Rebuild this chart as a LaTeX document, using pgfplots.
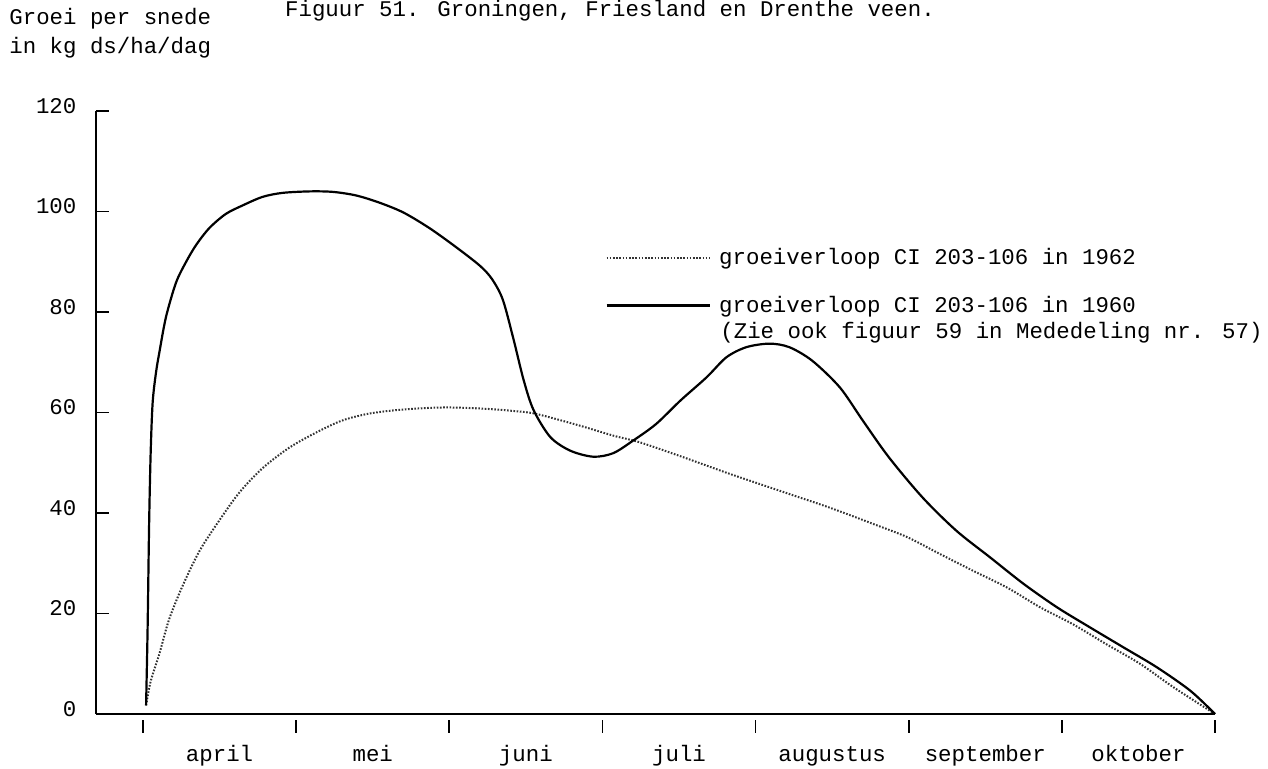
\documentclass[border=0pt]{standalone}
\usepackage{fontspec}
\setmainfont{Liberation Mono}
\usepackage{pgfplots}
\pgfplotsset{compat=1.18}

\begin{document}
\begin{tikzpicture}[font=\fontsize{11.2}{13}\selectfont]
\begin{axis}[
  at={(0pt,0pt)}, anchor=south west,
  scale only axis, width=559.5pt, height=301.5pt,
  xmin=-0.307, xmax=7, ymin=0, ymax=120,
  axis x line*=bottom, axis y line*=left,
  axis line style={line width=1pt, black},
  tick align=inside, major tick length=6.5pt,
  tick style={line width=0.9pt, black},
  xtick={0,...,7}, xticklabels={,,,,,,,},
  x tick style={yshift=-9.5pt},
  extra x ticks={0.5,1.5,2.5,3.5,4.5,5.5,6.5},
  extra x tick labels={april,mei,juni,juli,augustus,september,oktober},
  extra x tick style={tick style={draw=none}, tick label style={anchor=base, yshift=-24pt}},
  ytick={0,20,...,120},
  yticklabel style={anchor=east, xshift=-6.3pt, yshift=2.5pt},
  /pgf/number format/assume math mode=true,
  clip=false,
  legend style={draw=none, fill=none, inner sep=0pt,
    at={(0.4549,0.779)}, anchor=north west,
    row sep=10pt, font=\fontsize{11.2}{13}\selectfont,
    /tikz/every odd column/.append style={column sep=2.3pt}},
  legend cell align=left,
  legend image code/.code={\draw[#1] (0pt,0pt) -- (51.5pt,0pt);},
]
% groeiverloop 1962
\addplot[smooth, black!80, line width=1pt, dash pattern=on 0.8pt off 0.8pt] coordinates {
  (0.02,1.7) (0.05,6.5) (0.107,12) (0.17,18.8) (0.26,25.6) (0.37,32.5)
  (0.5,38.6) (0.63,44.1) (0.78,48.9) (0.955,53) (1.13,56) (1.30,58.4)
  (1.48,59.8) (1.70,60.6) (1.96,61) (2.2,60.8) (2.42,60.3) (2.57,59.7)
  (2.85,57.4) (3.07,55.4) (3.24,54.1) (3.5,51.4) (3.83,47.8) (4.15,44.5)
  (4.48,41.1) (4.77,37.8) (4.99,35.2) (5.20,31.9) (5.42,28.5) (5.64,25.2)
  (5.86,21.2) (6.07,17.9) (6.29,13.9) (6.51,10) (6.73,5.3) (7.0,0)
};
\addlegendentry{groeiverloop CI 203-106 in 1962}
% groeiverloop 1960
\addplot[smooth, black, line width=1.1pt] coordinates {
  (0.02,1.7) (0.03,17) (0.04,38) (0.05,52) (0.063,62) (0.085,68)
  (0.107,72) (0.15,79) (0.215,85.8) (0.28,89.9) (0.346,93.3) (0.433,96.7)
  (0.54,99.5) (0.65,101.2) (0.78,102.9) (0.91,103.7) (1.09,104) (1.24,103.9)
  (1.39,103.2) (1.54,101.8) (1.70,99.8) (1.87,96.7) (2.04,93) (2.2,89.2)
  (2.28,86.5) (2.35,82.4) (2.42,74.5) (2.485,66.5) (2.55,60.5) (2.66,55.1)
  (2.79,52.4) (2.94,51.2) (3.07,51.9) (3.2,54.4) (3.35,57.7) (3.51,62.4)
  (3.68,67) (3.81,71) (3.94,73) (4.09,73.7) (4.22,73) (4.37,70.3)
  (4.55,65) (4.70,58.4) (4.87,51.1) (5.09,43.1) (5.31,36.5) (5.53,31.2)
  (5.75,25.9) (5.97,21.2) (6.18,17.3) (6.40,13.3) (6.62,9.3) (6.84,4.6) (7.0,0)
};
\addlegendentry{groeiverloop CI 203-106 in 1960}
\end{axis}
\node[anchor=base west, inner sep=0pt] at (312pt,187.5pt) {(Zie ook figuur 59 in Mededeling nr. 57)};
\node[anchor=base west, inner sep=0pt] at (-43.5pt,344.5pt) {Groei per snede};
\node[anchor=base west, inner sep=0pt] at (-43.5pt,330pt) {in kg ds/ha/dag};
\node[anchor=base, inner sep=0pt] at (257pt,348.5pt) {Figuur 51. Groningen, Friesland en Drenthe veen.};
\pgfresetboundingbox
\path (-48pt,-27.5pt) rectangle (586pt,357pt);
\end{tikzpicture}
\end{document}
